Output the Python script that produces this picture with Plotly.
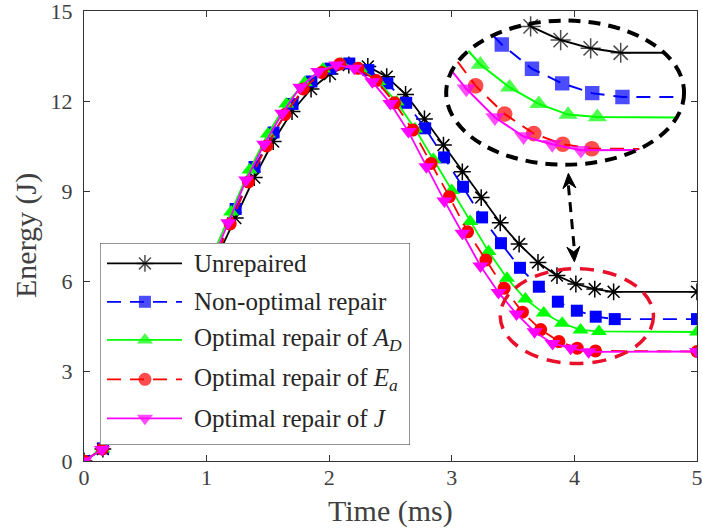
import math
import plotly.graph_objects as go

# ---------------- data ----------------
t_unrep = [0, 0.154, 0.309, 0.463, 0.617, 0.772, 0.926, 1.080, 1.234, 1.389, 1.543, 1.697,
           1.852, 2.006, 2.160, 2.315, 2.469, 2.623, 2.777, 2.932, 3.086, 3.240, 3.395,
           3.549, 3.703, 3.858, 4.012, 4.166, 4.320, 5.0]
e_unrep = [0, 0.40, 1.00, 1.80, 2.85, 4.05, 5.40, 6.75, 8.10, 9.45, 10.65, 11.65,
           12.40, 12.90, 13.20, 13.15, 12.81, 12.22, 11.40, 10.53, 9.64, 8.78, 7.94,
           7.23, 6.62, 6.18, 5.90, 5.73, 5.64, 5.64]

t_nonopt = [0, 0.155, 0.309, 0.464, 0.618, 0.773, 0.928, 1.082, 1.237, 1.391, 1.546, 1.701,
            1.855, 2.010, 2.164, 2.319, 2.474, 2.628, 2.783, 2.937, 3.092, 3.247, 3.401,
            3.556, 3.710, 3.865, 4.020, 4.174, 4.329, 5.0]
e_nonopt = [0, 0.42, 1.05, 1.90, 2.95, 4.20, 5.55, 7.00, 8.40, 9.80, 10.95, 11.90,
            12.65, 13.08, 13.25, 13.03, 12.59, 11.94, 11.09, 10.12, 9.14, 8.12, 7.26,
            6.44, 5.81, 5.31, 5.01, 4.81, 4.73, 4.73]

t_optAD = [0, 0.15, 0.30, 0.45, 0.60, 0.75, 0.90, 1.05, 1.20, 1.35, 1.50, 1.65,
           1.80, 1.95, 2.10, 2.25, 2.40, 2.55, 2.70, 2.85, 3.00, 3.15, 3.30,
           3.45, 3.60, 3.75, 3.90, 4.05, 4.20, 5.0]
e_optAD = [0, 0.40, 1.00, 1.85, 2.90, 4.10, 5.45, 6.90, 8.30, 9.70, 10.90, 11.90,
           12.62, 13.07, 13.24, 13.08, 12.65, 11.97, 11.07, 10.05, 9.02, 7.98, 6.98,
           6.09, 5.40, 4.93, 4.59, 4.37, 4.32, 4.30]

t_optEa = [0, 0.149, 0.298, 0.447, 0.596, 0.745, 0.894, 1.043, 1.192, 1.341, 1.490, 1.639,
           1.788, 1.937, 2.086, 2.235, 2.384, 2.533, 2.682, 2.831, 2.980, 3.129, 3.278,
           3.427, 3.576, 3.725, 3.874, 4.023, 4.172, 5.0]
e_optEa = [0, 0.40, 0.97, 1.80, 2.82, 4.00, 5.30, 6.50, 7.90, 9.30, 10.50, 11.55,
           12.40, 12.95, 13.23, 13.09, 12.68, 11.94, 11.03, 9.92, 8.81, 7.64, 6.70,
           5.76, 4.96, 4.38, 3.98, 3.76, 3.67, 3.65]

t_optJ = [0, 0.147, 0.294, 0.441, 0.588, 0.735, 0.882, 1.029, 1.176, 1.323, 1.470, 1.617,
          1.764, 1.911, 2.058, 2.205, 2.352, 2.499, 2.646, 2.793, 2.940, 3.087, 3.234,
          3.381, 3.528, 3.675, 3.822, 3.969, 4.116, 5.0]
e_optJ = [0, 0.38, 0.92, 1.72, 2.72, 3.88, 5.15, 6.50, 7.94, 9.37, 10.56, 11.59,
          12.46, 12.98, 13.20, 13.09, 12.64, 11.92, 10.98, 9.81, 8.67, 7.59, 6.50,
          5.62, 4.90, 4.31, 3.92, 3.76, 3.64, 3.65]

series_names = ["Unrepaired", "Non-optimal repair", "Optimal repair of <i>A<sub>D</sub></i>",
                "Optimal repair of <i>E<sub>a</sub></i>", "Optimal repair of <i>J</i>"]

x_ticks = [0, 1, 2, 3, 4, 5]
y_ticks = [0, 3, 6, 9, 12, 15]

# ---------------- styles ----------------
FONT = "Liberation Serif, Times New Roman, serif"
DASH = "14px,9px"
styles = [
    dict(color="#000000", dash="solid", symbol="asterisk-open", size=14, lw=1.8),
    dict(color="#0000ff", dash=DASH, symbol="square", size=12, lw=1.8),
    dict(color="#00ff00", dash="solid", symbol="triangle-up", size=14, lw=1.8),
    dict(color="#ff0000", dash=DASH, symbol="circle", size=13, lw=1.8),
    dict(color="#ff00ff", dash="solid", symbol="triangle-down", size=14, lw=1.8),
]
data = [(t_unrep, e_unrep), (t_nonopt, e_nonopt), (t_optAD, e_optAD),
        (t_optEa, e_optEa), (t_optJ, e_optJ)]

X_RANGE = [0, 5]
Y_RANGE = [0, 15]
PLOT_W, PLOT_H = 613, 450
PX_PER_X = PLOT_W / (X_RANGE[1] - X_RANGE[0])
PX_PER_Y = PLOT_H / (Y_RANGE[1] - Y_RANGE[0])

# zoom region (red ellipse in main axes) and magnified copy (black ellipse in inset axes)
MAIN_ELL = (4.02, 4.83, 0.625, 1.58)
INSET_ELL = (4.035, 4.82, 0.61, 1.48)
INSET_XRANGE = [3.35, 4.70]
INSET_YRANGE = [3.2, 6.45]
INSET_XDOM = [0.567, 0.9964]
INSET_YDOM = [0.6432, 0.9949]
LEG_XDOM = [0.0261, 0.5318]
LEG_YDOM = [0.0356, 0.4844]


def marker_dict(st, scale=1.0):
    size = st["size"] * scale
    if st["symbol"] == "asterisk-open":
        return dict(symbol="asterisk-open", size=size, line=dict(color=st["color"], width=1.5))
    return dict(symbol=st["symbol"], size=size, color=st["color"], line=dict(width=0))


def clip_ellipse(ts, es, ell, msize):
    cx, cy, rx, ry = ell
    xs, ys, sz = [], [], []
    last_end = None
    for i in range(len(ts) - 1):
        t0, e0, t1, e1 = ts[i], es[i], ts[i + 1], es[i + 1]
        dx, dy = (t1 - t0) / rx, (e1 - e0) / ry
        fx, fy = (t0 - cx) / rx, (e0 - cy) / ry
        a = dx * dx + dy * dy
        b = 2 * (fx * dx + fy * dy)
        c = fx * fx + fy * fy - 1
        disc = b * b - 4 * a * c
        if a == 0 or disc <= 0:
            continue
        sq = math.sqrt(disc)
        lo = max(0.0, (-b - sq) / (2 * a))
        hi = min(1.0, (-b + sq) / (2 * a))
        if lo >= hi:
            continue
        p_lo = (t0 + lo * (t1 - t0), e0 + lo * (e1 - e0))
        p_hi = (t0 + hi * (t1 - t0), e0 + hi * (e1 - e0))
        if not (lo == 0.0 and last_end == i):
            if xs:
                xs.append(None); ys.append(None); sz.append(0)
            xs.append(p_lo[0]); ys.append(p_lo[1]); sz.append(msize if lo == 0.0 else 0)
        xs.append(p_hi[0]); ys.append(p_hi[1]); sz.append(msize if hi == 1.0 else 0)
        last_end = i + 1 if hi == 1.0 else None
    return xs, ys, sz


def arrowhead_path(tip, tail, length=15, half_w=6.5, notch=10):
    # direction in pixel space (y down) from tip toward tail
    dxp = (tail[0] - tip[0]) * PX_PER_X
    dyp = -(tail[1] - tip[1]) * PX_PER_Y
    n = math.hypot(dxp, dyp)
    ux, uy = dxp / n, dyp / n
    px_, py_ = uy, -ux

    def to_data(ox, oy):
        return tip[0] + ox / PX_PER_X, tip[1] - oy / PX_PER_Y

    p0 = to_data(0, 0)
    p1 = to_data(ux * length + px_ * half_w, uy * length + py_ * half_w)
    p2 = to_data(ux * notch, uy * notch)
    p3 = to_data(ux * length - px_ * half_w, uy * length - py_ * half_w)
    return "M{},{} L{},{} L{},{} L{},{} Z".format(p0[0], p0[1], p1[0], p1[1],
                                                   p2[0], p2[1], p3[0], p3[1])


fig = go.Figure()

# main curves
for (t, e), st, name in zip(data, styles, series_names):
    fig.add_trace(go.Scatter(
        x=t, y=e, mode="lines+markers", name=name, showlegend=False,
        line=dict(color=st["color"], width=st["lw"], dash=st["dash"]),
        marker=marker_dict(st), xaxis="x", yaxis="y"))

# inset (magnified, clipped to ellipse)
for (t, e), st, name in zip(data, styles, series_names):
    xs, ys, sz = clip_ellipse(t, e, INSET_ELL, st["size"] * 1.2)
    md = marker_dict(st, 1.2)
    md["size"] = sz
    fig.add_trace(go.Scatter(
        x=xs, y=ys, mode="lines+markers", showlegend=False, connectgaps=False,
        line=dict(color=st["color"], width=st["lw"] + 0.2, dash=st["dash"]),
        marker=md, xaxis="x2", yaxis="y2"))

# manual legend (x3/y3 overlay, 0..1 box coordinates)
row_y = [0.899, 0.709, 0.520, 0.325, 0.132]
for st, name, ry in zip(styles, series_names, row_y):
    fig.add_trace(go.Scatter(
        x=[0.0226, 0.145, 0.2645], y=[ry, ry, ry], mode="lines+markers", showlegend=False,
        line=dict(color=st["color"], width=st["lw"], dash=st["dash"]),
        marker=dict(marker_dict(st), size=[0, st["size"], 0]),
        xaxis="x3", yaxis="y3", hoverinfo="skip"))

annotations = []
for name, ry in zip(series_names, row_y):
    annotations.append(dict(x=0.297, y=ry, xref="x3", yref="y3", text=name, showarrow=False,
                            xanchor="left", yanchor="middle",
                            font=dict(family=FONT, size=25, color="#262626")))

# axis titles
annotations.append(dict(x=0.5, y=0, xref="paper", yref="paper", yshift=-50, text="Time (ms)",
                        showarrow=False, xanchor="center", yanchor="middle",
                        font=dict(family=FONT, size=30, color="#404040")))
annotations.append(dict(x=0, y=0.5, xref="paper", yref="paper", xshift=-58, text="Energy (J)",
                        showarrow=False, xanchor="center", yanchor="middle", textangle=-90,
                        font=dict(family=FONT, size=30, color="#404040")))

# double-headed dashed arrow between the two ellipses
ARROW_TOP = (3.951, 9.59)
ARROW_BOT = (4.0, 6.64)

shapes = [
    # legend box
    dict(type="rect", xref="x3", yref="y3", x0=0, x1=1, y0=0, y1=1,
         fillcolor="white", line=dict(color="#333333", width=1), layer="below"),
    # red zoom ellipse
    dict(type="circle", xref="x", yref="y",
         x0=MAIN_ELL[0] - MAIN_ELL[2], x1=MAIN_ELL[0] + MAIN_ELL[2],
         y0=MAIN_ELL[1] - MAIN_ELL[3], y1=MAIN_ELL[1] + MAIN_ELL[3],
         line=dict(color="#e8102a", width=3.5, dash="14px,9px")),
    # black inset ellipse
    dict(type="circle", xref="x2", yref="y2",
         x0=INSET_ELL[0] - INSET_ELL[2], x1=INSET_ELL[0] + INSET_ELL[2],
         y0=INSET_ELL[1] - INSET_ELL[3], y1=INSET_ELL[1] + INSET_ELL[3],
         line=dict(color="black", width=4, dash="12px,8px")),
    # dashed arrow shaft
    dict(type="line", xref="x", yref="y", x0=ARROW_TOP[0], y0=ARROW_TOP[1] - 0.4,
         x1=ARROW_BOT[0], y1=ARROW_BOT[1] + 0.4,
         line=dict(color="black", width=3, dash="10px,7px")),
    # arrow heads
    dict(type="path", xref="x", yref="y", path=arrowhead_path(ARROW_TOP, ARROW_BOT),
         fillcolor="black", line=dict(color="black", width=1)),
    dict(type="path", xref="x", yref="y", path=arrowhead_path(ARROW_BOT, ARROW_TOP),
         fillcolor="black", line=dict(color="black", width=1)),
]

axis_common = dict(showgrid=False, zeroline=False, showline=True, linecolor="#333333",
                   linewidth=1, mirror="ticks", ticks="inside", ticklen=6, tickwidth=1,
                   tickcolor="#333333", automargin=False, ticklabeloverflow="allow",
                   tickfont=dict(family=FONT, size=22, color="#404040"))

fig.update_layout(
    width=702, height=529,
    margin=dict(l=84, r=5, t=11, b=68),
    paper_bgcolor="white", plot_bgcolor="rgba(0,0,0,0)",
    showlegend=False,
    xaxis=dict(axis_common, range=X_RANGE, tickvals=x_ticks, ticktext=[str(v) for v in x_ticks],
               ticklabelstandoff=-3),
    yaxis=dict(axis_common, range=Y_RANGE, tickvals=y_ticks, ticktext=[str(v) for v in y_ticks],
               ticklabelstandoff=6),
    xaxis2=dict(domain=INSET_XDOM, range=INSET_XRANGE, visible=False, anchor="y2"),
    yaxis2=dict(domain=INSET_YDOM, range=INSET_YRANGE, visible=False, anchor="x2"),
    xaxis3=dict(domain=LEG_XDOM, range=[0, 1], visible=False, anchor="y3"),
    yaxis3=dict(domain=LEG_YDOM, range=[0, 1], visible=False, anchor="x3"),
    shapes=shapes,
    annotations=annotations,
)

fig.write_html("out.html", config={"displayModeBar": False},
               post_script="document.body.style.margin='0';document.body.style.overflow='hidden';")
